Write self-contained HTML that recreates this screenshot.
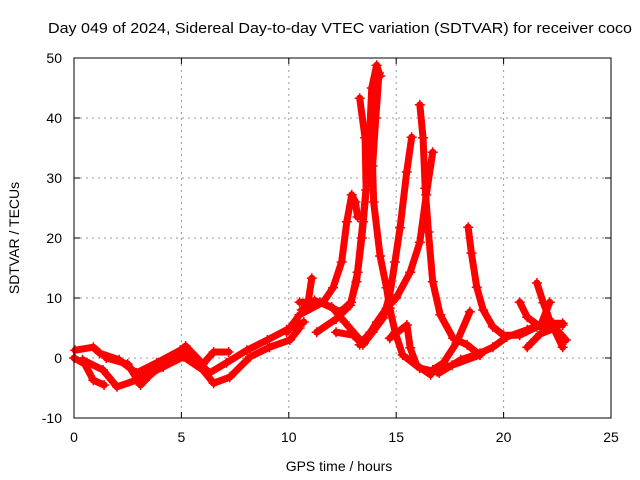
<!DOCTYPE html>
<html><head><meta charset="utf-8"><style>
body{margin:0;background:#fff}
svg{display:block;font-family:"Liberation Sans",sans-serif}
</style></head><body>
<svg id="chart" width="640" height="480">
<text x="340" y="33" font-size="15" text-anchor="middle" textLength="584" lengthAdjust="spacingAndGlyphs">Day 049 of 2024, Sidereal Day-to-day VTEC variation (SDTVAR) for receiver coco</text>
<text x="339" y="471" font-size="14" text-anchor="middle">GPS time / hours</text>
<text transform="translate(19,238) rotate(-90)" font-size="14" text-anchor="middle">SDTVAR / TECUs</text>
<g id="grid"></g><g id="ticks"></g><g id="series"></g>
<rect x="74" y="58" width="537" height="360" fill="none" stroke="#000" stroke-width="1"/>
</svg>
<script>
const xTicks=[0,5,10,15,20,25];
const yTicks=[-10,0,10,20,30,40,50];
const t1=[[0,0],[0.5,-1],[0.9,-3.7],[1.4,-4.5]];
const t2=[[0.05,1.3],[0.9,1.8],[1.2,0.8],[2.1,-0.3],[2.9,-2.5],[3.85,-0.8],[4.95,1.3],[5.7,-0.3],[6.3,-2.5],[7.1,-0.8],[8.05,1.3],[9,3],[9.9,4.7],[10.7,6]];
const t3=[[0.4,-0.3],[1.35,-2],[2.0,-4.8],[2.9,-3.7],[4.15,-1.5],[5.1,0.2],[6.0,-2],[6.5,-4.2],[7.25,-3.2],[8.2,0.2],[9.1,1.8],[10.05,3],[10.5,5]];
const t4=[[1.5,0],[2.5,-1],[3.1,-4.5],[3.5,-3],[4.5,0],[5.2,2],[6,-1],[6.5,1],[7.2,1]];
const t5=[[9.9,4.3],[10.5,7.2],[11.6,9.3],[12.06,11.7],[12.46,16],[12.7,22.7],[12.93,27.2],[13.1,26],[13.2,23.5]];
const t6=[[10.5,9.3],[11.45,9.3],[12.4,7.7],[12.9,9.3],[13.2,14.3],[13.45,22.7],[13.7,32],[13.86,45],[14.09,48.8],[14.25,47]];
const t7=[[11.3,4.3],[12.2,6.5],[12.85,8.8],[13.15,12.7],[13.4,20],[13.6,28],[13.55,36.7],[13.3,43.3]];
const t8=[[14.2,47.5],[14.05,40],[13.9,32],[13.95,26],[14.25,17],[14.55,11.7],[14.7,8.3],[14.95,4.3],[15.3,0.5],[16.1,-1.7],[16.9,-2.3],[17.6,-1.2],[18.9,0.5]];
const t8b=[[10.6,8],[11.2,9.6],[12,8.5],[12.6,6],[13.2,3.5],[13.5,2.5]];
const t9=[[12.2,4.3],[13.0,3.8],[13.45,2.2],[13.9,4.3],[14.4,6.7],[14.7,10.5],[14.94,16],[15.18,21.7],[15.49,31],[15.72,36.8]];
const t10=[[13.3,2.2],[13.8,4.3],[14.1,6],[14.55,8.3],[15.0,10],[15.65,14.3],[16.1,19.3],[16.4,27.2],[16.7,34.3]];
const t11=[[16.1,42.2],[16.25,36.7],[16.35,28.3],[16.5,21],[16.7,12.7],[17.05,7.2],[17.65,3.3],[18.3,2.2],[18.9,0.5]];
const t12=[[14.7,3.3],[15.5,5.5],[15.65,1.7],[15.95,-1.2],[16.6,-2.8]];
const t13=[[11.07,13.3],[10.9,9.3]];
const t14=[[18.35,21.8],[18.5,17.5],[18.75,11.8],[19.05,8],[19.5,5.2],[20.0,3.8],[20.75,3.8],[21.55,5.2],[22.3,5.8],[22.75,5.5]];
const t15=[[16.7,-2],[17.2,-0.8],[17.8,2.5],[18.43,7.7]];
const t16=[[17,-2.5],[18,-0.3],[18.9,0.8],[19.5,1.8],[20.15,3.5],[21.1,4.7],[21.85,5.8],[22.75,5.8]];
const t17=[[21.55,12.5],[21.85,9.2],[22.15,6.3],[22.75,1.8]];
const t18=[[20.75,9.3],[21.1,6.8],[21.7,5.2],[22.15,9.3]];
const t19=[[21.1,1.8],[21.7,4],[22.4,5],[22.9,3]];
const tracks=[t1,t2,t3,t4,t5,t6,t7,t8,t8b,t9,t10,t11,t12,t13,t14,t15,t16,t17,t18,t19];
const X0=74,X1=611,Y0=418,Y1=58,xmin=0,xmax=25,ymin=-10,ymax=50;
const sx=h=>X0+(h-xmin)/(xmax-xmin)*(X1-X0);
const sy=v=>Y0-(v-ymin)/(ymax-ymin)*(Y0-Y1);
const NS="http://www.w3.org/2000/svg";
function mk(tag,attrs,parent){const e=document.createElementNS(NS,tag);for(const k in attrs)e.setAttribute(k,attrs[k]);parent.appendChild(e);return e;}
const grid=document.getElementById('grid'),ticks=document.getElementById('ticks'),ser=document.getElementById('series');
xTicks.forEach(t=>{const x=sx(t);
 if(t>xmin&&t<xmax){const g=mk('line',{x1:x,x2:x,y1:Y1,y2:Y0,stroke:'#999','stroke-dasharray':'2,4'},grid);
 
 }
 const tb=mk('line',{x1:x,x2:x,y1:Y0,y2:Y0-6,stroke:'#000'},ticks);
 
 
 const tt=mk('line',{x1:x,x2:x,y1:Y1,y2:Y1+6,stroke:'#000'},ticks);
 
 
 const l=mk('text',{x:x,y:Y0+24,'font-size':14,'text-anchor':'middle'},ticks);l.textContent=t;
 
 
});
yTicks.forEach(t=>{const y=sy(t);
 if(t>ymin&&t<ymax){const g=mk('line',{x1:X0,x2:X1,y1:y,y2:y,stroke:'#999','stroke-dasharray':'2,4'},grid);
 
 }
 const tl=mk('line',{x1:X0,x2:X0+6,y1:y,y2:y,stroke:'#000'},ticks);
 
 
 const tr=mk('line',{x1:X1,x2:X1-6,y1:y,y2:y,stroke:'#000'},ticks);
 
 
 const l=mk('text',{x:X0-12,y:y+5,'font-size':14,'text-anchor':'end'},ticks);l.textContent=t;
 
 
});
tracks.forEach((tr,i)=>{
 const pl=mk('polyline',{points:tr.map(p=>sx(p[0])+','+sy(p[1])).join(' '),fill:'none',stroke:'#f00','stroke-width':7,'stroke-linejoin':'round','stroke-linecap':'round'},ser);
 
 
 tr.forEach(p=>{const x=sx(p[0]),y=sy(p[1]);
  const m=mk('path',{d:`M${x-5},${y}H${x+5}M${x},${y-5}V${y+5}`,stroke:'#f00','stroke-width':1.5},ser);
  
  
 });
});
</script>
</body></html>
